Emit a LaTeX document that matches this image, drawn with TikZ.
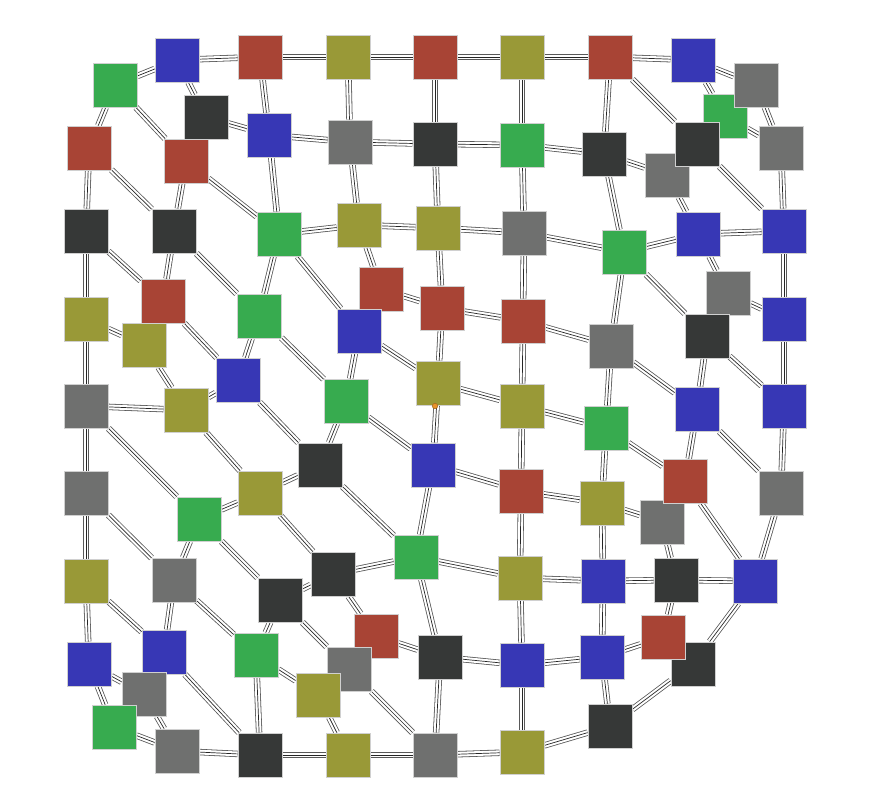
\documentclass[tikz,border=0pt]{standalone}
\usetikzlibrary{shapes.geometric}
\definecolor{cG}{HTML}{37AB4F}
\definecolor{cB}{HTML}{3737B5}
\definecolor{cR}{HTML}{A84435}
\definecolor{cO}{HTML}{999937}
\definecolor{cD}{HTML}{363837}
\definecolor{cY}{HTML}{6F706F}
\definecolor{cBorder}{HTML}{D0D0D0}
\definecolor{cDot}{HTML}{E8922A}
\pgfdeclarelayer{bg}
\pgfdeclarelayer{edges}
\pgfsetlayers{bg,edges,main}
\tikzset{
  box/.style={rectangle, minimum size=44pt, inner sep=0pt, draw=cBorder, line width=0.9pt},
  tri/.style={draw=black!65, line width=6.4pt,
    postaction={draw=white, line width=4.8pt},
    postaction={draw=black!85, line width=0.7pt}},
  dot/.style={circle, minimum size=5.5pt, inner sep=0pt, fill=cDot, draw=cDot!70!black, line width=0.5pt}
}
\begin{document}
\begin{tikzpicture}[x=1pt,y=-1pt]
\begin{pgfonlayer}{bg}
\fill[white] (0,0) rectangle (878,805);
\end{pgfonlayer}
\useasboundingbox (0,0) rectangle (878,805);
\foreach \n/\x/\y/\c in {
 10/725/116/cG, 1/115/85/cG, 2/177/60/cB, 3/260/57/cR, 4/348/57/cO, 5/435/57/cR,
 6/522/57/cO, 7/610/57/cR, 8/693/60/cB, 9/756/85/cY,
 11/206/117/cD, 12/269/135/cB, 13/350/142/cY, 14/435/144/cD, 15/522/145/cG,
 16/604/154/cD, 18/667/175/cY, 17/697/144/cD, 19/781/148/cY, 20/89/148/cR,
 21/186/161/cR, 22/86/231/cD, 23/174/231/cD, 24/279/234/cG, 25/359/225/cO,
 26/438/228/cO, 27/524/233/cY, 28/624/252/cG, 29/698/234/cB, 30/784/231/cB,
 31/86/319/cO, 32/163/301/cR, 33/144/345/cO, 34/259/316/cG, 35/381/289/cR,
 36/442/308/cR, 37/359/331/cB, 38/523/321/cR, 39/611/346/cY, 40/728/293/cY,
 41/707/336/cD, 42/784/319/cB, 43/86/406/cY, 44/186/410/cO, 45/238/380/cB,
 46/346/401/cG, 47/438/383/cO, 48/522/406/cO, 49/606/428/cG, 50/697/409/cB,
 51/784/406/cB, 52/86/493/cY, 53/199/519/cG, 54/260/493/cO, 55/320/465/cD,
 56/433/465/cB, 57/521/491/cR, 58/602/503/cO, 60/662/522/cY, 59/685/481/cR,
 61/781/493/cY, 62/86/581/cO, 63/174/580/cY, 64/280/600/cD, 65/333/574/cD,
 66/416/557/cG, 67/520/578/cO, 68/603/581/cB, 69/676/580/cD, 70/755/581/cB,
 71/89/664/cB, 72/164/652/cB, 73/144/694/cY, 74/114/727/cG, 75/256/655/cG,
 76/376/636/cR, 77/349/669/cY, 78/318/695/cO, 79/440/657/cD, 80/522/665/cB,
 81/602/657/cB, 83/693/664/cD, 82/663/637/cR, 84/177/751/cY, 85/260/755/cD,
 86/348/755/cO, 87/435/755/cY, 88/522/752/cO, 89/610/726/cD}
 \node[box, fill=\c] (n\n) at (\x,\y) {};
\node[dot] (od) at (435,406) {};
\begin{pgfonlayer}{edges}
\foreach \a/\b in {
 1/2, 2/3, 3/4, 4/5, 5/6, 6/7, 7/8, 8/9, 8/10, 10/19, 9/19,
 2/11, 11/12, 3/12, 12/13, 13/14, 14/15, 15/16, 16/18,
 4/13, 5/14, 6/15, 7/16, 7/17, 17/30, 19/30,
 1/20, 1/21, 20/22, 20/23, 21/23, 21/24, 12/24, 24/25, 13/25, 25/26, 14/26,
 26/27, 15/27, 27/28, 16/28, 18/29, 28/29, 29/30, 29/40, 28/41, 28/39, 30/42,
 22/31, 22/32, 23/32, 23/34, 24/34, 24/37, 25/35, 26/36, 27/38, 35/36, 36/38, 38/39,
 31/33, 31/43, 32/45, 33/44, 34/45, 34/46, 37/46, 37/47, 36/47, 38/48, 47/48,
 48/49, 39/49, 39/50, 41/50, 41/51, 42/51, 40/42,
 43/44, 43/52, 43/53, 44/45, 44/54, 45/55, 46/55, 46/56, 47/56, 48/57, 56/57,
 57/58, 49/58, 49/59, 50/59, 50/61, 51/61,
 52/62, 52/63, 53/63, 53/54, 54/55, 54/65, 55/66, 56/66, 57/67, 58/60, 58/68,
 60/69, 59/70, 61/70,
 53/64, 64/65, 65/66, 66/67, 67/68, 68/69, 69/70, 65/76, 64/75, 64/77, 63/72,
 63/75, 62/71, 62/72,
 66/79, 76/79, 79/80, 67/80, 80/81, 68/81, 81/82, 69/82, 70/83, 81/89, 83/89,
 71/73, 71/74, 73/84, 74/84, 72/85, 75/85, 75/78, 78/86, 84/85, 85/86, 86/87,
 77/87, 79/87, 87/88, 80/88, 88/89}
 \draw[tri] (n\a) -- (n\b);
\end{pgfonlayer}
\end{tikzpicture}
\end{document}
